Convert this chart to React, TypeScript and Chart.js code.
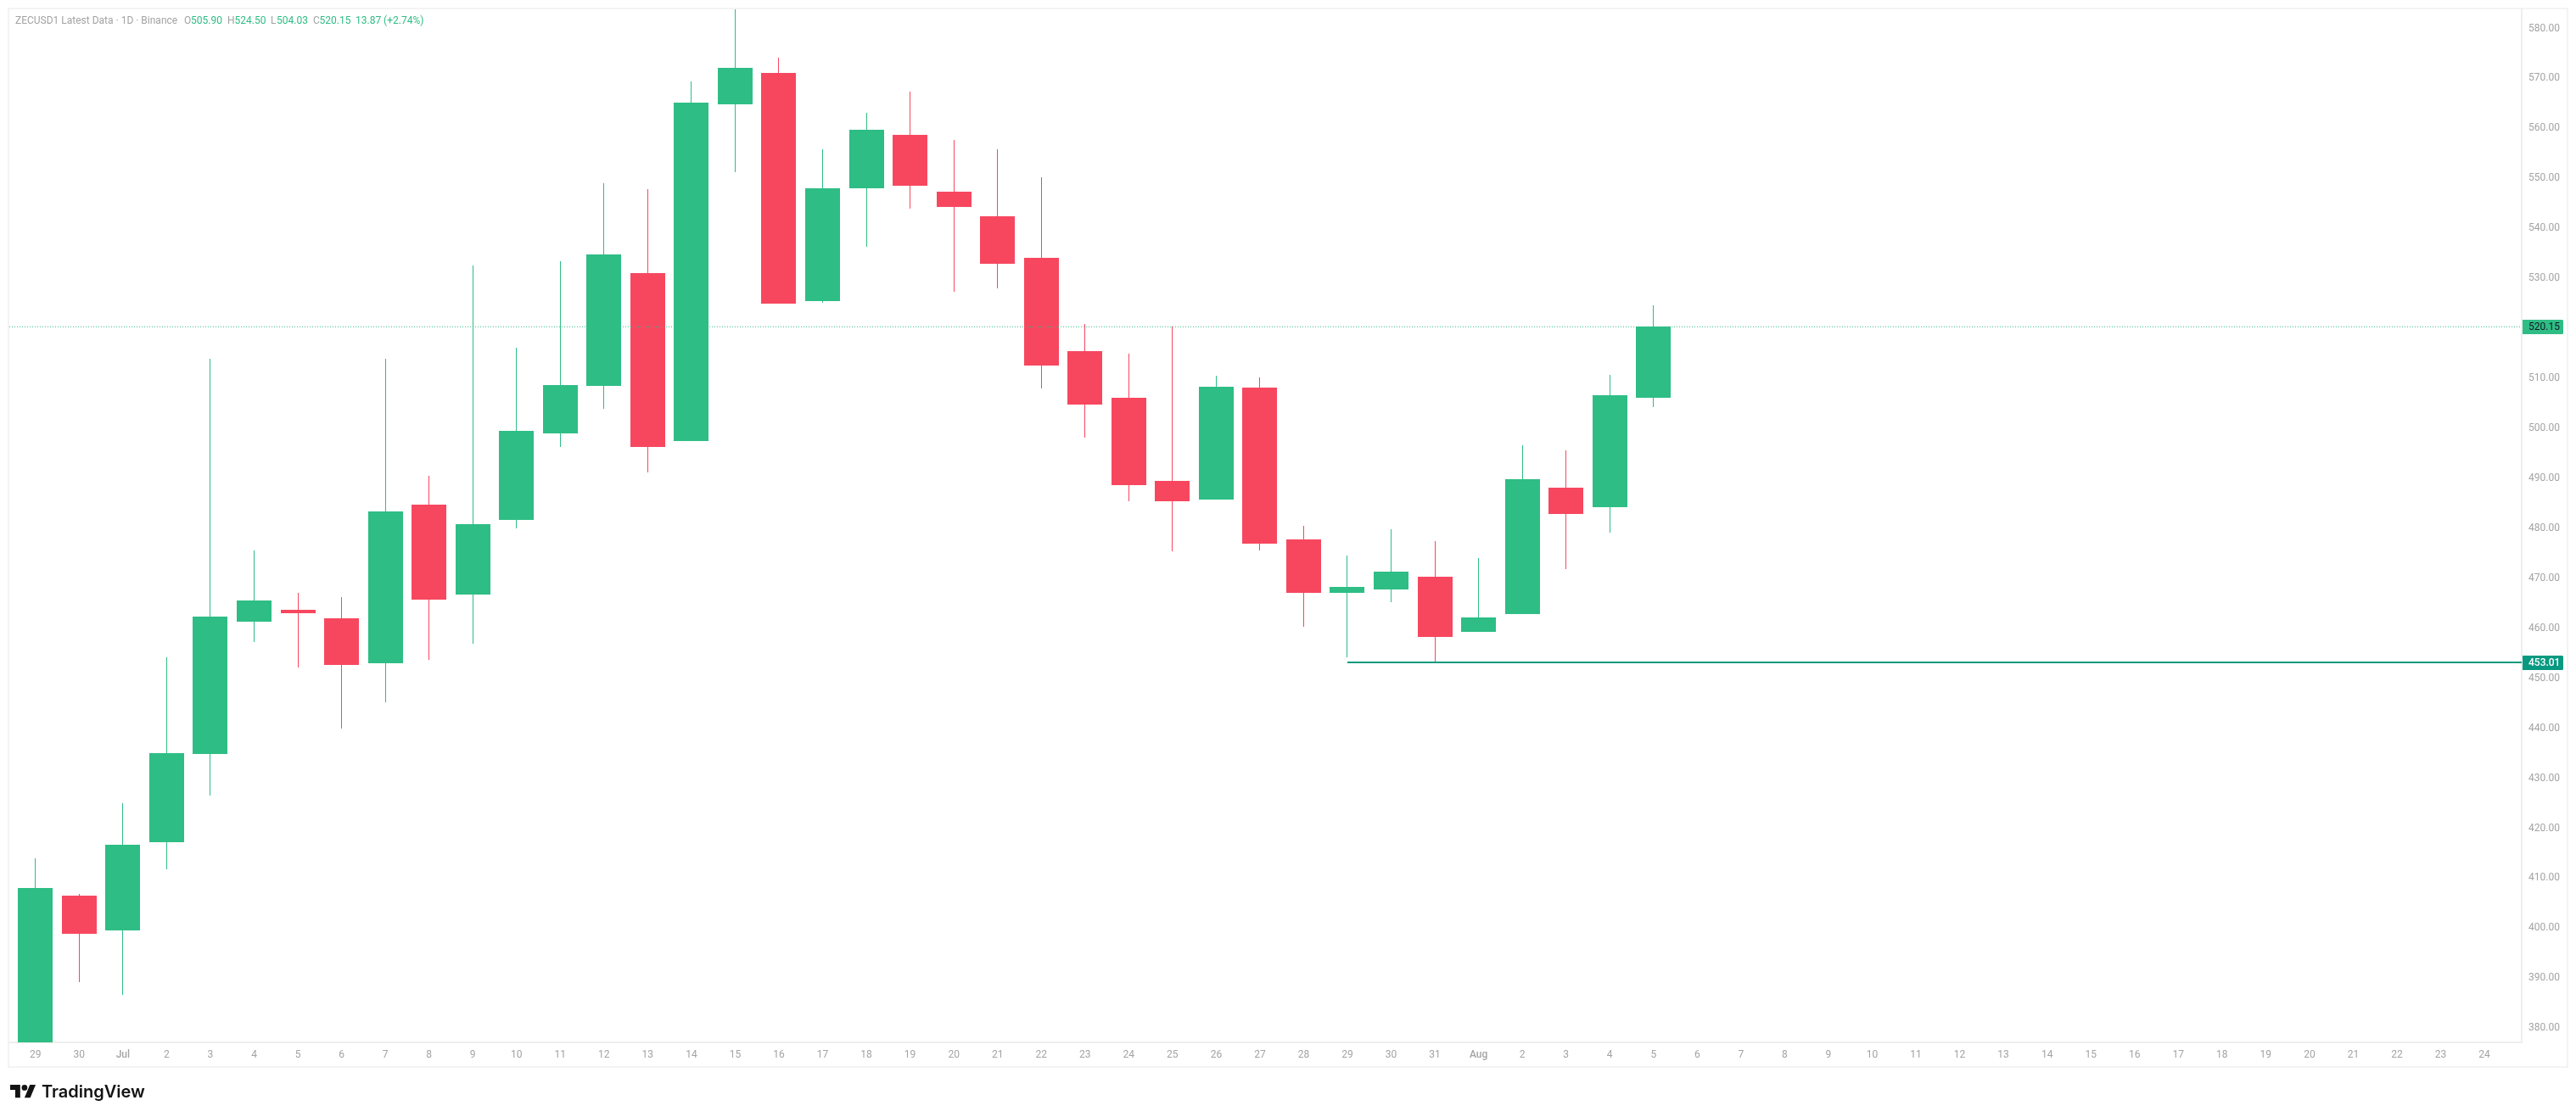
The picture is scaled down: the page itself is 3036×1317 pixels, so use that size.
import React, { useEffect, useRef } from "react";
import { Chart, registerables } from "chart.js";

Chart.register(...registerables);

const dayLabels = [
  "29","30","Jul","2","3","4","5","6","7","8","9","10","11","12","13","14","15","16","17","18","19","20","21","22","23","24","25","26","27","28","29","30","31",
  "Aug","2","3","4","5","6","7","8","9","10","11","12","13","14","15","16","17","18","19","20","21","22","23","24",
];
const priceTicks = [380,390,400,410,420,430,440,450,460,470,480,490,500,510,520,530,540,550,560,570,580];

const opens = [375.6,406.4,399.4,417,434.7,461.2,463.6,461.8,452.9,484.6,466.6,481.5,498.8,508.3,530.9,497.3,564.6,570.9,525.3,547.9,558.6,547.2,542.3,534,515.3,506,489.4,485.5,508,477.6,466.9,467.6,470.1,459.2,462.7,487.9,484.1,505.9];
const highs = [413.8,406.7,424.9,454,513.8,475.4,467,466,513.8,490.3,532.4,516,533.3,548.9,547.7,569.2,585,574,555.6,563,567.2,557.5,555.6,550,520.7,514.7,520.2,510.4,510,480.3,474.4,479.6,477.3,473.9,496.4,495.4,510.5,524.5];
const lows = [375,389,386.5,411.6,426.4,457.1,452,439.7,445,453.5,456.8,479.8,496.1,503.7,491,497.3,551,524.8,525,536.2,543.8,527.2,527.9,507.8,498,485.2,475.3,485.5,475.4,460.1,454.1,465,453,459.2,462.7,471.6,479,504.03];
const closes = [407.9,398.7,416.5,434.9,462.2,465.4,462.9,452.5,483.2,465.6,480.7,499.3,508.5,534.6,496.1,565,572,524.8,547.9,559.6,548.4,544.1,532.8,512.4,504.6,488.5,485.2,508.2,476.8,466.9,468.1,471.2,458.1,462,489.7,482.7,506.5,520.15];

const lastPrice = 520.15;
const supportPrice = 453.01;
const supportStartDay = 30;

const GREEN = "#2ebd85";
const RED = "#f7475f";
const TEAL = "#089981";
const GRAY = "#a3a3a3";
const FRAME = "#f3f3f3";
const AXIS_FONT = "Roboto";

const X_MIN = -0.5976;
const X_MAX = 56.853;
const Y_MIN = 377;
const Y_MAX = 583.65;

const isUp = (i: number) => closes[i] >= opens[i];
const candleColors = opens.map((_, i) => (isUp(i) ? GREEN : RED));

const headerParts: [string, string, number][] = [
  ["ZECUSD1 Latest Data · 1D · Binance", GRAY, 18],
  ["O", GRAY, 217],
  ["505.90", GREEN, 225],
  ["H", GRAY, 268],
  ["524.50", GREEN, 276.5],
  ["L", GRAY, 319],
  ["504.03", GREEN, 326],
  ["C", GRAY, 369],
  ["520.15", GREEN, 376.5],
  ["13.87 (+2.74%)", GREEN, 419],
];

const overlayPlugin = {
  id: "overlay",
  afterDatasetsUpdate(chart: any) {
    // Snap candles to the pixel grid so bodies and wicks stay crisp, as in the original.
    chart.data.datasets.forEach((ds: any, idx: number) => {
      if (ds.type !== "bar") return;
      for (const el of chart.getDatasetMeta(idx).data as any[]) {
        el.x = Math.floor(el.x) + 0.5;
        el.y = Math.round(el.y);
        el.base = Math.round(el.base);
      }
    });
  },
  beforeDraw(chart: any) {
    const { ctx, chartArea: a } = chart;
    ctx.save();
    ctx.fillStyle = "#ffffff";
    ctx.fillRect(0, 0, chart.width, chart.height);
    ctx.strokeStyle = FRAME;
    ctx.lineWidth = 2;
    ctx.strokeRect(a.left - 1, a.top - 1, a.right - a.left + 55, a.bottom - a.top + 30);
    ctx.restore();
  },
  afterDraw(chart: any) {
    const { ctx, chartArea: a, scales } = chart;
    ctx.save();

    ctx.font = `12px ${AXIS_FONT}`;
    ctx.textBaseline = "middle";
    ctx.textAlign = "left";
    for (const [text, color, x] of headerParts) {
      ctx.fillStyle = color;
      ctx.fillText(text, x, 25);
    }

    const tag = (value: number, bg: string, fg: string, weight: string) => {
      const y = Math.round(scales.y.getPixelForValue(value));
      ctx.fillStyle = bg;
      ctx.beginPath();
      ctx.roundRect(a.right + 1, y - 8, 48, 17, [0, 1.5, 1.5, 0]);
      ctx.fill();
      ctx.fillStyle = fg;
      ctx.font = `${weight} 12px ${AXIS_FONT}`;
      ctx.textAlign = "left";
      ctx.textBaseline = "middle";
      ctx.fillText(value.toFixed(2), a.right + 8, y + 0.5);
    };
    tag(lastPrice, GREEN, "#131722", "400");
    tag(supportPrice, TEAL, "#ffffff", "500");

    ctx.save();
    ctx.translate(12, 1279 - 4 * 0.845);
    ctx.scale(0.845, 0.845);
    ctx.fillStyle = "#131313";
    ctx.fill(new Path2D("M14 22H7V11H0V4h14v18zM28 22h-8l7.5-18h8L28 22z"));
    ctx.beginPath();
    ctx.arc(20, 8, 4, 0, Math.PI * 2);
    ctx.fill();
    ctx.restore();

    ctx.fillStyle = "#131313";
    ctx.font = "600 20px Inter";
    ctx.textAlign = "left";
    ctx.textBaseline = "alphabetic";
    ctx.fillText("TradingView", 49, 1294);

    ctx.restore();
  },
};

export default function App() {
  const ref = useRef<HTMLCanvasElement | null>(null);

  useEffect(() => {
    if (!ref.current) return;
    const chart = new Chart(ref.current, {
      type: "bar",
      plugins: [overlayPlugin],
      data: {
        datasets: [
          {
            type: "bar",
            label: "wick",
            data: opens.map((_, i) => ({ x: i, y: [lows[i], highs[i]] })) as any,
            backgroundColor: candleColors,
            barThickness: 1,
            grouped: false,
            inflateAmount: 0,
            order: 4,
          },
          {
            type: "bar",
            label: "body",
            data: opens.map((o, i) => ({ x: i, y: [Math.min(o, closes[i]), Math.max(o, closes[i])] })) as any,
            backgroundColor: candleColors,
            barThickness: 41,
            grouped: false,
            inflateAmount: 0,
            order: 3,
          },
          {
            type: "line",
            label: "last",
            data: [{ x: X_MIN, y: lastPrice }, { x: X_MAX, y: lastPrice }],
            borderColor: GREEN,
            borderWidth: 1,
            borderDash: [1, 2],
            pointRadius: 0,
            order: 2,
          },
          {
            type: "line",
            label: "support",
            data: [{ x: supportStartDay, y: supportPrice }, { x: X_MAX, y: supportPrice }],
            borderColor: TEAL,
            borderWidth: 2,
            pointRadius: 0,
            order: 1,
          },
        ] as any,
      },
      options: {
        responsive: false,
        animation: false,
        devicePixelRatio: 1,
        layout: { padding: { left: 11, top: 11, right: 10, bottom: 60 } },
        plugins: { legend: { display: false }, tooltip: { enabled: false }, title: { display: false } },
        scales: {
          x: {
            type: "linear",
            offset: false,
            min: X_MIN,
            max: X_MAX,
            grid: { display: false, drawTicks: false, offset: false },
            border: { display: true, color: "#eeeeee", width: 2 },
            afterBuildTicks(scale: any) {
              scale.ticks = dayLabels.map((_, i) => ({ value: i }));
            },
            afterFit(scale: any) {
              scale.height = 28;
              scale.paddingLeft = 0;
              scale.paddingRight = 0;
              scale.paddingTop = 0;
              scale.paddingBottom = 0;
            },
            ticks: {
              autoSkip: false,
              maxRotation: 0,
              minRotation: 0,
              padding: 8,
              color: GRAY,
              font: (c: any) => ({
                family: AXIS_FONT,
                size: 12,
                weight: dayLabels[c.tick?.value] === "Jul" || dayLabels[c.tick?.value] === "Aug" ? "500" : "400",
              }),
              callback: (v: any) => dayLabels[v],
            },
          },
          y: {
            type: "linear",
            position: "right",
            min: Y_MIN,
            max: Y_MAX,
            grid: { display: false, drawTicks: false },
            border: { display: true, color: "#eeeeee", width: 2 },
            afterBuildTicks(scale: any) {
              scale.ticks = priceTicks.map((value) => ({ value }));
            },
            afterFit(scale: any) {
              scale.width = 54;
              scale.paddingLeft = 0;
              scale.paddingRight = 0;
              scale.paddingTop = 0;
              scale.paddingBottom = 0;
            },
            ticks: {
              padding: 8,
              labelOffset: 1,
              color: GRAY,
              font: { family: AXIS_FONT, size: 12 },
              callback: (v: any) => Number(v).toFixed(2),
            },
          },
        },
      } as any,
    });
    return () => chart.destroy();
  }, []);

  return (
    <div style={{ position: "fixed", left: 0, top: 0, width: 3036, height: 1317, background: "#fff" }}>
      <canvas ref={ref} width={3036} height={1317} style={{ display: "block" }} />
    </div>
  );
}
